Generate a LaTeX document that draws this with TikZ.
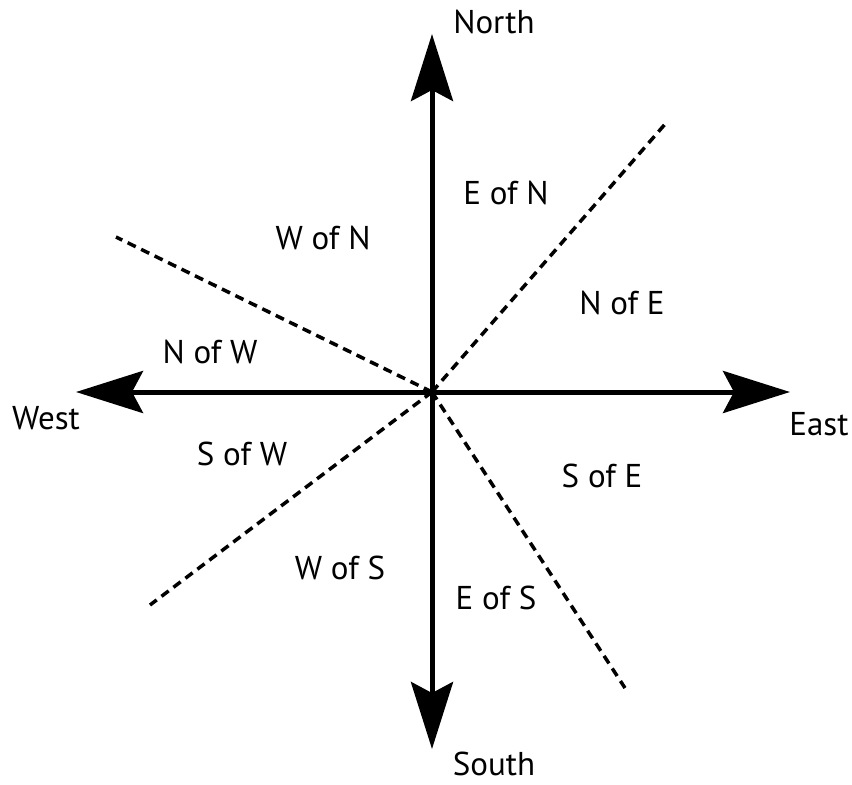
\documentclass[tikz,border=0pt]{standalone}
\usepackage{fontspec}
\setmainfont{PT Sans}
\usetikzlibrary{arrows.meta}

\begin{document}
\begin{tikzpicture}[x=1pt, y=-1pt,
        axis/.style={line width=5pt, -{Stealth[length=67pt, width=42pt, inset=11pt]}},
        bearing/.style={line width=3.5pt, dash pattern=on 9pt off 6pt},
        lbl/.style={font=\fontsize{33}{33}\selectfont, inner sep=0pt}]
        \useasboundingbox (0,0) rectangle (852,785);

        % Mittelpunkt und Enden
        \coordinate (O) at (432,392);
        \coordinate (n) at (432,34);
        \coordinate (s) at (432,749);
        \coordinate (w) at (76,392);
        \coordinate (e) at (790,392);

        % Achsen mit Pfeilen
        \draw[axis] (O) -- (n);
        \draw[axis] (O) -- (s);
        \draw[axis] (O) -- (w);
        \draw[axis] (O) -- (e);

        % Gestrichelte Linien
        \coordinate (ne) at (666,123);
        \coordinate (sw) at (150,605);
        \coordinate (nw) at (116,237);
        \coordinate (se) at (625,688);
        \draw[bearing] (O) -- (ne);
        \draw[bearing] (O) -- (sw);
        \draw[bearing] (O) -- (nw);
        \draw[bearing] (O) -- (se);

        % Himmelsrichtungen
        \node[lbl] (north) at (494,22) {North};
        \node[lbl] (south) at (494,764) {South};
        \node[lbl] (west) at (46,418) {West};
        \node[lbl] (east) at (819,424) {East};

        % Sektoren
        \node[lbl] (EofN) at (506,193) {E of N};
        \node[lbl] (WofN) at (323,238) {W of N};
        \node[lbl] (NofE) at (622,303) {N of E};
        \node[lbl] (NofW) at (210,352) {N of W};
        \node[lbl] (SofW) at (242,454) {S of W};
        \node[lbl] (SofE) at (602,476) {S of E};
        \node[lbl] (WofS) at (340,568) {W of S};
        \node[lbl] (EofS) at (496,598) {E of S};
\end{tikzpicture}
\end{document}
